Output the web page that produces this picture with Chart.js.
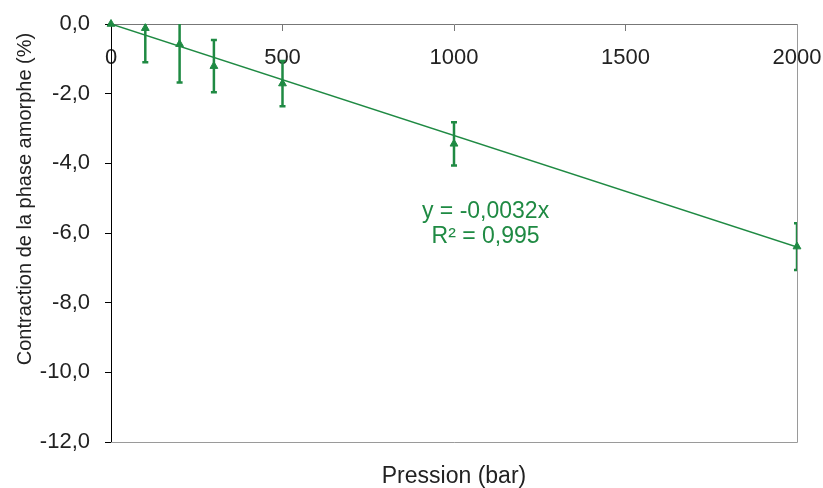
<!DOCTYPE html>
<html>
<head>
<meta charset="utf-8">
<script src="https://cdn.jsdelivr.net/npm/chart.js@4/dist/chart.umd.min.js"></script>
<style>
    html, body { margin: 0; padding: 0; background: #ffffff; }
    #wrap { width: 823px; height: 488px; position: relative; }
</style>
</head>
<body>
<div id="wrap"><canvas id="chart"></canvas></div>
<script>
// Data
const pressure = [0, 100, 200, 300, 500, 1000, 2000];
const contraction = [0, -0.12, -0.58, -1.21, -1.71, -3.44, -6.39];
const errorSize = [0, 0.98, 1.1, 0.75, 0.65, 0.62, 0.67];

// Trend line ends (y = -0,0032x)
const trendX = [0, 2000];
const trendY = [0, -6.4];
const equationLines = ['y = -0,0032x', 'R² = 0,995'];

const GREEN = '#1f8a43';
const FONT = "'Liberation Sans', Arial, sans-serif";

// Gray frame on the right and bottom of the plot area
const framePlugin = {
    id: 'frame',
    beforeDatasetsDraw(chart) {
        const { ctx, chartArea: a } = chart;
        ctx.save();
        ctx.strokeStyle = '#9a9a9a';
        ctx.lineWidth = 1;
        ctx.beginPath();
        ctx.moveTo(a.left, a.bottom + 0.5);
        ctx.lineTo(a.right + 0.5, a.bottom + 0.5);
        ctx.lineTo(a.right + 0.5, a.top);
        ctx.stroke();
        ctx.restore();
    }
};

// Vertical error bars, clipped to the plot area
const errorBarPlugin = {
    id: 'errorBars',
    afterDatasetsDraw(chart) {
        const { ctx, chartArea: a, scales } = chart;
        ctx.save();
        ctx.beginPath();
        ctx.rect(a.left, a.top, a.right - a.left, a.bottom - a.top);
        ctx.clip();
        ctx.strokeStyle = GREEN;
        ctx.lineWidth = 2.5;
        pressure.forEach((p, i) => {
            if (!errorSize[i]) return;
            const x = scales.x.getPixelForValue(p);
            const yTop = scales.y.getPixelForValue(contraction[i] + errorSize[i]);
            const yBot = scales.y.getPixelForValue(contraction[i] - errorSize[i]);
            ctx.beginPath();
            ctx.moveTo(x, yTop);
            ctx.lineTo(x, yBot);
            ctx.moveTo(x - 3, yTop);
            ctx.lineTo(x + 3, yTop);
            ctx.moveTo(x - 3, yBot);
            ctx.lineTo(x + 3, yBot);
            ctx.stroke();
        });
        ctx.restore();
    }
};

// Equation label and the y axis title
const labelsPlugin = {
    id: 'labels',
    afterDraw(chart) {
        const { ctx, scales } = chart;
        ctx.save();
        ctx.fillStyle = GREEN;
        ctx.font = '23px ' + FONT;
        ctx.textAlign = 'center';
        ctx.textBaseline = 'middle';
        const ex = scales.x.getPixelForValue(1092);
        const ey = scales.y.getPixelForValue(-5.4);
        equationLines.forEach((line, i) => ctx.fillText(line, ex, ey + i * 25));

        ctx.fillStyle = '#222222';
        ctx.font = '20px ' + FONT;
        ctx.translate(25, 199);
        ctx.rotate(-Math.PI / 2);
        ctx.fillText('Contraction de la phase amorphe (%)', 0, 0);
        ctx.restore();
    }
};

function noOverhang(scale) {
    scale.paddingLeft = 0;
    scale.paddingRight = 0;
    scale.paddingTop = 0;
    scale.paddingBottom = 0;
}

new Chart(document.getElementById('chart'), {
    type: 'scatter',
    data: {
        datasets: [
            {
                type: 'line',
                data: trendX.map((x, i) => ({ x: x, y: trendY[i] })),
                borderColor: GREEN,
                borderWidth: 1.5,
                pointRadius: 0,
                fill: false
            },
            {
                data: pressure.map((x, i) => ({ x: x, y: contraction[i] })),
                pointStyle: 'triangle',
                pointRadius: 4.5,
                backgroundColor: GREEN,
                borderColor: GREEN,
                borderWidth: 1,
                clip: false
            }
        ]
    },
    options: {
        responsive: true,
        maintainAspectRatio: false,
        animation: false,
        layout: { padding: { left: 0, top: 24, right: 26, bottom: 0 } },
        plugins: {
            legend: { display: false },
            tooltip: { enabled: false }
        },
        scales: {
            x: {
                type: 'linear',
                position: { y: 0 },
                min: 0,
                max: 2000,
                grid: { drawOnChartArea: false, color: '#777777', tickLength: 6 },
                border: { color: '#777777' },
                ticks: {
                    stepSize: 500,
                    autoSkip: false,
                    maxRotation: 0,
                    padding: 15,
                    color: '#222222',
                    font: { family: FONT, size: 22 },
                    callback: (v) => String(v)
                },
                afterFit: noOverhang
            },
            x2: {
                type: 'linear',
                position: 'bottom',
                min: 0,
                max: 2000,
                grid: { display: false },
                border: { display: false },
                ticks: { display: false },
                title: {
                    display: true,
                    text: 'Pression (bar)',
                    color: '#222222',
                    font: { family: FONT, size: 23, lineHeight: 1 },
                    padding: { top: 0, bottom: 0 }
                },
                afterFit: (scale) => { noOverhang(scale); scale.height = 46; }
            },
            y: {
                type: 'linear',
                position: 'left',
                min: -12,
                max: 0,
                grid: { drawOnChartArea: false, color: '#000000', tickLength: 6 },
                border: { color: '#000000' },
                ticks: {
                    stepSize: 2,
                    padding: 15,
                    color: '#222222',
                    font: { family: FONT, size: 22 },
                    callback: (v) => v.toFixed(1).replace('.', ',')
                },
                afterFit: (scale) => { noOverhang(scale); scale.width = 111; }
            }
        }
    },
    plugins: [framePlugin, errorBarPlugin, labelsPlugin]
});
</script>
</body>
</html>
